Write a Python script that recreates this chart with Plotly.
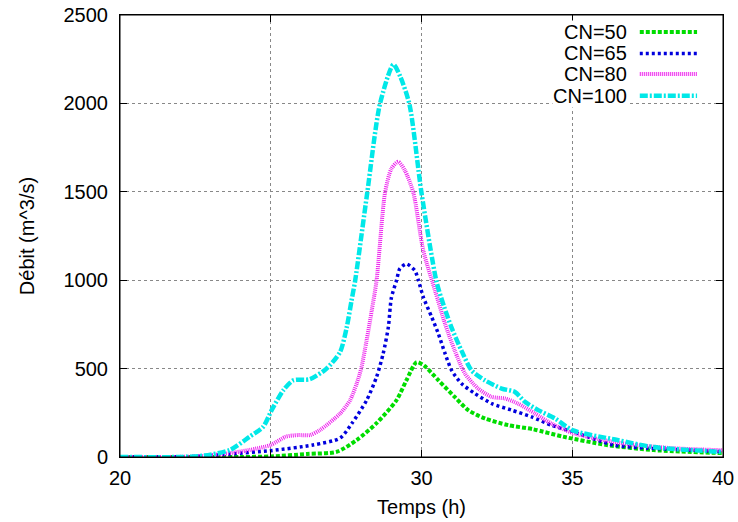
import plotly.graph_objects as go

# ---- data ----
cn50_t = [20, 24, 25, 26.2, 27.2, 27.85, 28.5, 29.17, 29.5, 29.84, 30.1, 30.56, 31.1, 31.55, 32.1, 32.88, 33.7, 34.7, 36.14, 37.7, 40]
cn50_q = [0, 0, 3, 17, 30, 96, 190, 321, 434, 537, 515, 434, 340, 265, 218, 180, 157, 115, 68, 39, 22]

cn65_t = [20, 22.5, 23.65, 25, 26.4, 27.3, 27.7, 28.18, 28.51, 28.73, 28.9, 29.0, 29.17, 29.28, 29.5, 29.78, 29.9, 30.06, 30.34, 30.56, 30.78, 31.0, 31.33, 31.77, 32.33, 32.99, 33.65, 34.3, 35.03, 36.36, 37.5, 39, 40]
cn65_q = [0, 3, 17, 36, 68, 107, 192, 321, 453, 586, 734, 900, 998, 1065, 1092, 1054, 998, 904, 791, 697, 586, 490, 415, 359, 302, 265, 227, 180, 143, 68, 50, 39, 30]

cn80_t = [20, 22.5, 23.65, 24.3, 25, 25.5, 25.9, 26.3, 26.63, 27.3, 27.63, 27.85, 28.0, 28.18, 28.35, 28.51, 28.79, 29.0, 29.23, 29.45, 29.73, 30.06, 30.45, 30.78, 31.1, 31.44, 31.88, 32.33, 32.77, 33.2, 33.76, 34.3, 35.03, 36.6, 38.2, 40]
cn80_q = [0, 3, 22, 40, 68, 115, 124, 124, 152, 246, 321, 415, 500, 660, 829, 998, 1495, 1630, 1670, 1620, 1495, 1167, 941, 754, 603, 472, 387, 340, 331, 302, 246, 190, 135, 79, 51, 38]

cn100_t = [20, 22, 22.8, 23.65, 24.3, 24.75, 25.03, 25.42, 25.75, 26.3, 26.85, 27.3, 27.52, 27.68, 27.8, 28.2, 28.62, 29.07, 29.3, 29.6, 30.0, 30.5, 30.75, 31.0, 31.33, 31.66, 32.1, 32.66, 33.1, 33.43, 33.87, 34.43, 35.0, 36.5, 37.7, 40]
cn100_q = [0, 0, 8, 40, 115, 171, 265, 378, 434, 440, 500, 594, 734, 885, 998, 1494, 1995, 2220, 2150, 1995, 1494, 990, 850, 730, 600, 490, 434, 387, 368, 312, 265, 218, 152, 96, 56, 28]

series_names = ["CN=50", "CN=65", "CN=80", "CN=100"]
x_ticks = [20, 25, 30, 35, 40]
y_ticks = [0, 500, 1000, 1500, 2000, 2500]

# ---- styles ----
colors = ["#00dd00", "#0000dd", "#ee22ee", "#00e8e8"]
dashes = ["4px,2px", "3px,3px", "1px,1px", "8px,2px,2px,2px"]
widths = [4, 3.5, 4, 4.5]

FONT = "Liberation Sans, Arial, Helvetica, sans-serif"
FS = 20

fig = go.Figure()
data = [(cn50_t, cn50_q), (cn65_t, cn65_q), (cn80_t, cn80_q), (cn100_t, cn100_q)]
for (t, q), name, c, d, w in zip(data, series_names, colors, dashes, widths):
    fig.add_trace(go.Scatter(
        x=t, y=q, name=name, mode="lines",
        line=dict(color=c, dash=d, width=w, shape="spline", smoothing=0.7),
        showlegend=False,
    ))

# custom legend: text right-aligned, sample line on the right
leg_y = [0.9615, 0.913, 0.8665, 0.8174]
for name, c, d, w, yy in zip(series_names, colors, dashes, widths, leg_y):
    fig.add_annotation(x=0.842, y=yy, xref="paper", yref="paper", text=name,
                       showarrow=False, xanchor="right", yanchor="middle",
                       font=dict(size=FS, color="black", family=FONT),
                       bgcolor="white", borderpad=0)
    fig.add_shape(type="line", xref="paper", yref="paper",
                  x0=0.862, x1=0.957, y0=yy, y1=yy,
                  line=dict(color=c, dash=d, width=w))

# plot frame
fig.add_shape(type="rect", xref="paper", yref="paper", x0=0, x1=1, y0=0, y1=1,
              line=dict(color="black", width=1), layer="above")

axis_common = dict(
    showline=True, linecolor="black", linewidth=1, mirror="ticks",
    ticks="inside", ticklen=7, tickcolor="black", tickwidth=1,
    showgrid=True, gridcolor="#888888", griddash="dot", gridwidth=1,
    zeroline=False, automargin=False, ticklabeloverflow="allow",
    tickfont=dict(size=FS, color="black", family=FONT),
)

fig.update_xaxes(range=[20, 40], tickvals=x_ticks, ticklabelstandoff=3,
                 title=dict(text="Temps (h)", font=dict(size=FS, color="black", family=FONT), standoff=11),
                 **axis_common)
fig.update_yaxes(range=[0, 2500], tickvals=y_ticks, ticklabelstandoff=7,
                 title=dict(text="Débit (m^3/s)", font=dict(size=FS, color="black", family=FONT), standoff=23),
                 **axis_common)

fig.update_layout(
    template="none",
    width=738, height=522,
    margin=dict(l=120, r=15, t=15, b=65, autoexpand=False),
    plot_bgcolor="white", paper_bgcolor="white",
    font=dict(family=FONT, color="black"),
)

fig.write_html("out.html",
               config={"displayModeBar": False},
               post_script="document.body.style.margin='0';document.body.style.overflow='hidden';")
